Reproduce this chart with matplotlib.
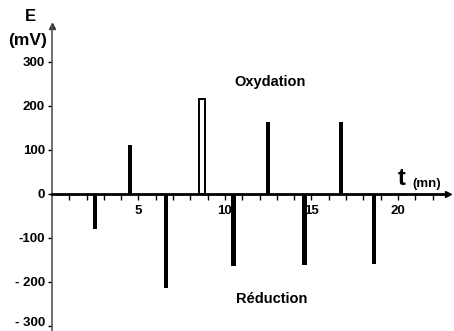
import numpy as np
import matplotlib
matplotlib.use("Agg")
import matplotlib.pyplot as plt
from matplotlib.transforms import ScaledTranslation

# peak positions (mn) and potentials (mV)
ox_times = [4.5, 8.7, 12.5, 16.7]
ox_values = [111, 216, 164, 164]
red_times = [2.5, 6.6, 10.5, 14.6, 18.6]
red_values = [-80, -214, -164, -161, -160]
hollow_peak = 1  # index of the open (outlined) oxidation peak

y_ticks = [300, 200, 100, 0, -100, -200, -300]
y_labels = ['300', '200', '100', '0', '-100', '- 200', '- 300']
x_major = [5, 10, 15, 20]

plt.rcParams['font.family'] = ['Liberation Sans', 'DejaVu Sans']

fig = plt.figure(figsize=(4.54, 3.31), dpi=100)
ax = fig.add_axes([0, 0, 1, 1])
ax.set_xlim(-3.0, 23.24)
ax.set_ylim(-311.4, 440.9)

ax.spines['left'].set_position(('data', 0))
ax.spines['bottom'].set_position(('data', 0))
ax.spines['right'].set_visible(False)
ax.spines['top'].set_visible(False)
ax.spines['left'].set_bounds(-311.4, 382)
ax.spines['bottom'].set_bounds(0, 22.8)
ax.spines['left'].set_linewidth(1.2)
ax.spines['left'].set_color('#555555')
ax.spines['bottom'].set_linewidth(2.0)

# arrow heads
ax.plot([0], [382], marker='^', color='#333333', markersize=4, clip_on=False)
ax.plot([22.9], [0], marker='>', color='black', markersize=4, clip_on=False)

# peaks
for i, (t, v) in enumerate(zip(ox_times, ox_values)):
    if i == hollow_peak:
        ax.bar(t, v, width=0.34, facecolor='white', edgecolor='black', linewidth=1.4)
    else:
        ax.bar(t, v, width=0.24, color='black')
ax.bar(red_times, red_values, width=0.24, color='black')

# ticks
ax.set_yticks(y_ticks)
ax.set_yticklabels(y_labels, fontsize=9.5, fontweight='bold')
ax.tick_params(axis='y', direction='out', length=3, width=1, pad=2)
# lift the lowest label a little so it stays inside the figure
low = ax.get_yticklabels()[-1]
low.set_transform(low.get_transform() + ScaledTranslation(0, 3 / 72, fig.dpi_scale_trans))
ax.set_xticks(range(1, 23))
ax.set_xticklabels([str(t) if t in x_major else '' for t in range(1, 23)],
                   fontsize=9.5, fontweight='bold')
ax.tick_params(axis='x', direction='out', length=4, width=1, pad=4)

# axis titles and annotations
ax.text(-1.25, 404, 'E', fontsize=12, fontweight='bold', ha='center', va='center')
ax.text(-1.4, 348, '(mV)', fontsize=12.5, fontweight='bold', ha='center', va='center')
ax.text(20.2, 8, 't', fontsize=17, fontweight='bold', ha='center', va='bottom')
ax.text(20.85, 10, '(mn)', fontsize=9.5, fontweight='bold', ha='left', va='bottom')
ax.text(12.6, 255, 'Oxydation', fontsize=10.5, fontweight='bold', ha='center', va='center')
ax.text(12.7, -238, 'Réduction', fontsize=10.5, fontweight='bold', ha='center', va='center')

fig.savefig('out.png', dpi=100)
